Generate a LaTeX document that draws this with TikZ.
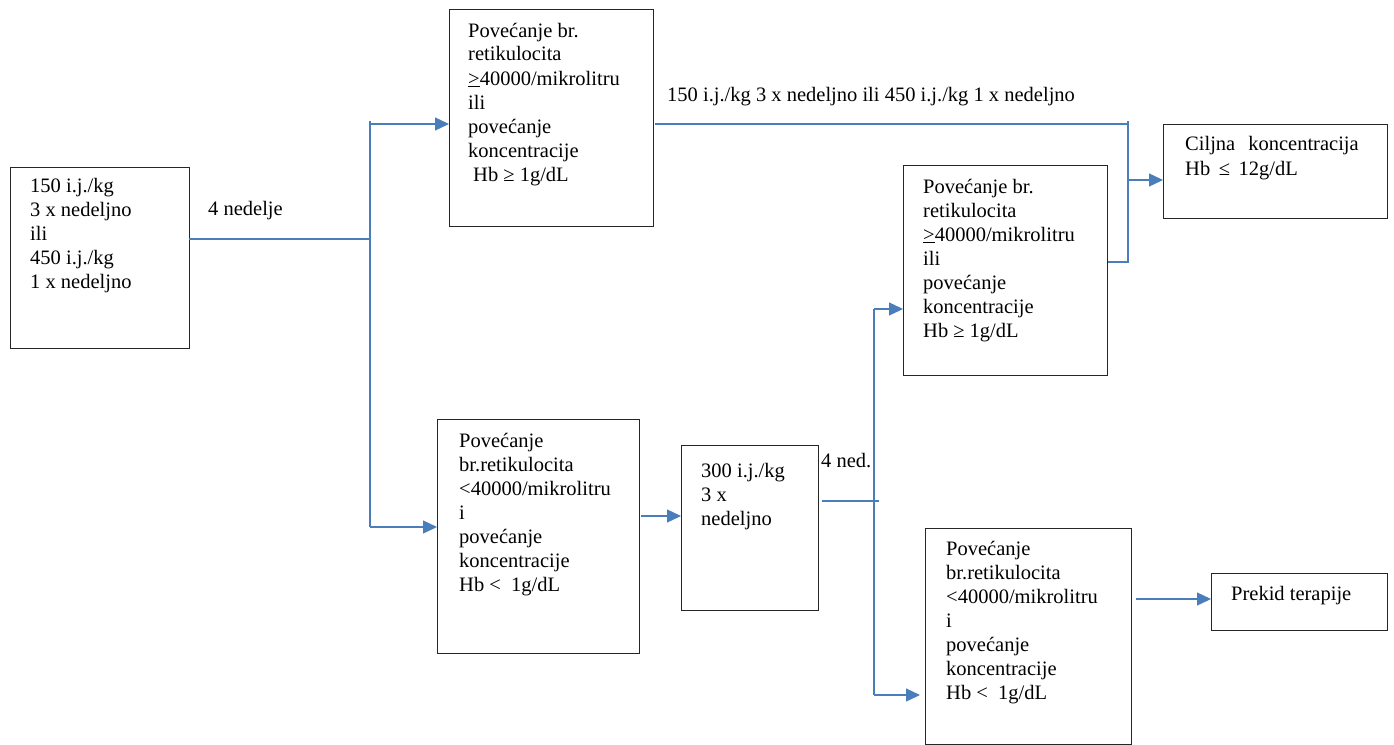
\documentclass[tikz,border=0pt]{standalone}
\usepackage{fontspec}
\setmainfont{Liberation Serif}
\usetikzlibrary{arrows.meta}
\definecolor{lineblue}{HTML}{4A7EBB}
\newcommand{\txt}[1]{\parbox[t]{260pt}{\fontsize{20.5}{24}\selectfont\raggedright #1}}
\begin{document}
\begin{tikzpicture}[x=1pt,y=-1pt,
  box/.style={draw=black!85, line width=1.3pt, anchor=north west, inner sep=0pt},
  lbl/.style={anchor=base west, inner sep=0pt},
  conn/.style={draw=lineblue, line width=1.3pt},
  arr/.style={conn, -{Triangle[length=14pt,width=13pt]}}]
\useasboundingbox (0,0) rectangle (1394,744);
% boxes
\node[box, minimum width=179pt, minimum height=181pt] (A) at (10,167) {};
\node[box, minimum width=204pt, minimum height=217pt] (B) at (449,9) {};
\node[box, minimum width=202pt, minimum height=234pt] (C) at (437,419) {};
\node[box, minimum width=204pt, minimum height=210pt] (D) at (903,165) {};
\node[box, minimum width=224pt, minimum height=94pt] (E) at (1163,124) {};
\node[box, minimum width=137pt, minimum height=165pt] (F) at (681,445) {};
\node[box, minimum width=206pt, minimum height=216pt] (G) at (925,528) {};
\node[box, minimum width=176pt, minimum height=57pt] (H) at (1211,573) {};
% texts
\node[lbl] (tA) at (30,192) {\txt{150 i.j./kg\\3 x nedeljno\\ili\\450 i.j./kg\\1 x nedeljno}};
\node[lbl] (tB) at (468,37) {\txt{Povećanje br.\\retikulocita\\\underline{>}40000/mikrolitru\\ili\\povećanje\\koncentracije\\\hspace*{5pt}Hb ≥ 1g/dL}};
\node[lbl] (tD) at (923,193) {\txt{Povećanje br.\\retikulocita\\\underline{>}40000/mikrolitru\\ili\\povećanje\\koncentracije\\Hb ≥ 1g/dL}};
\node[lbl] (tC) at (459,447) {\txt{Povećanje\\br.retikulocita\\<40000/mikrolitru\\i\\povećanje\\koncentracije\\Hb <\ \ 1g/dL}};
\node[lbl] (tF) at (701,477) {\txt{300 i.j./kg\\3 x\\nedeljno}};
\node[lbl] (tG) at (946,555) {\txt{Povećanje\\br.retikulocita\\<40000/mikrolitru\\i\\povećanje\\koncentracije\\Hb <\ \ 1g/dL}};
\node[lbl] (tE) at (1185,150) {\parbox[t]{220pt}{\fontsize{20.5}{25}\selectfont\raggedright Ciljna\hspace{13pt}koncentracija\\Hb \,≤\, 12g/dL}};
\node[lbl] (tH) at (1231,600) {\txt{Prekid terapije}};
\node[lbl] (l1) at (667,101) {\fontsize{20.5}{24}\selectfont 150 i.j./kg 3 x nedeljno ili 450 i.j./kg 1 x nedeljno};
\node[lbl] (l2) at (208,215) {\txt{4 nedelje}};
\node[lbl] (l3) at (821,467) {\txt{4 ned.}};
% junction coordinates
\coordinate (a1) at (189,239);
\coordinate (j1) at (370,239);
\coordinate (j1t) at (370,121);
\coordinate (j1b) at (370,527);
\coordinate (t1) at (370,124);
\coordinate (c1) at (641,516);
\coordinate (f1) at (822,501);
\coordinate (f2) at (879,501);
\coordinate (j2t) at (874,309);
\coordinate (j2b) at (874,695);
\coordinate (b1) at (655,124);
\coordinate (k1) at (1128,124);
\coordinate (k0) at (1128,121);
\coordinate (k2) at (1128,262);
\coordinate (k3) at (1128,180);
\coordinate (g1) at (1136,599);
% connectors
\draw[conn] (a1) -- (j1);
\draw[conn] (j1t) -- (j1b);
\draw[arr] (t1) -- (t1 -| B.west);
\draw[arr] (j1b) -- (j1b -| C.west);
\draw[arr] (c1) -- (c1 -| F.west);
\draw[conn] (f1) -- (f2);
\draw[conn] (j2t) -- (j2b);
\draw[arr] (j2t) -- (j2t -| D.west);
\draw[arr] (j2b) -- ([xshift=-5pt]j2b -| G.west);
\draw[conn] (b1) -- (k1);
\draw[conn] (k0) -- (k2) -- (k2 -| D.east);
\draw[arr] (k3) -- (k3 -| E.west);
\draw[arr] (g1) -- (g1 -| H.west);
\end{tikzpicture}
\end{document}
